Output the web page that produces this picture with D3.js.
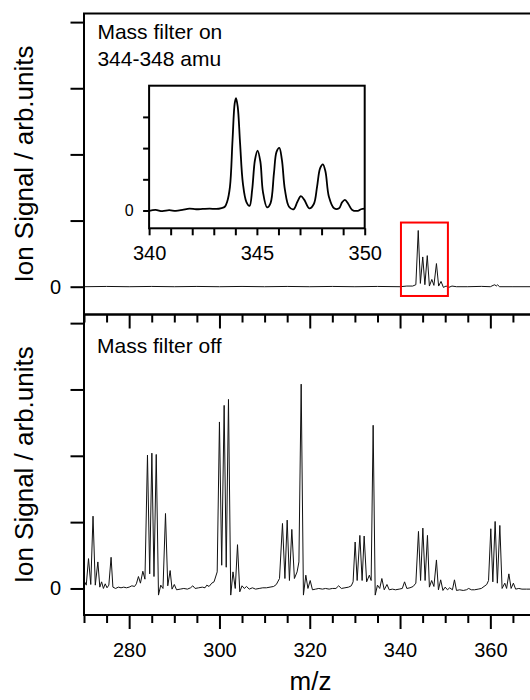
<!DOCTYPE html>
<html>
<head>
<meta charset="utf-8">
<script src="https://cdn.jsdelivr.net/npm/d3@7"></script>
<style>
  body { margin: 0; background: #fff; }
  text { font-family: "Liberation Sans", Arial, sans-serif; fill: #000; }
</style>
</head>
<body>
<div id="chart"></div>
<script>

// DATA

// x axis (m/z) tick labels
var mzTicks = [280, 300, 320, 340, 360];
var insetTicks = [340, 345, 350];

// mass filter off spectrum (bottom panel)
var offMz = [270.0, 270.5, 271.0, 271.5, 272.0, 272.5, 273.07, 273.5, 273.9, 274.3, 274.7, 275.1, 275.5, 276.0, 276.4,
  277.0, 277.6, 278.2, 278.8, 279.4, 280.0, 280.6, 281.2, 281.6, 282.06, 282.5, 283.03, 283.5,
  284.06, 284.55, 285.03, 285.5, 286.0, 286.5, 287.0, 287.5, 288.05, 288.55, 289.08, 289.5, 290.0, 290.5,
  291.3, 292.1, 292.9, 293.6, 294.1, 294.6, 295.4, 296.2, 296.8, 297.2, 297.7, 298.3, 298.8, 299.5,
  300.0, 300.5, 301.04, 301.5, 302.0, 302.5, 303.0, 303.5, 304.0, 304.5, 305.0, 305.5, 306.0, 306.6,
  307.3, 308.0, 308.8, 309.6, 310.4, 311.2, 312.0, 312.6, 313.3, 313.96, 314.5, 315.0, 315.5, 316.03,
  316.6, 317.2, 317.6, 318.1, 318.6, 319.13, 319.6, 320.1, 320.6, 321.3, 322.0, 322.8, 323.5, 324.3,
  325.0, 325.8, 326.4, 327.0, 327.8, 328.6, 329.2, 329.6, 330.05, 330.5, 331.1, 331.6, 332.05, 332.6,
  333.2, 333.6, 334.04, 334.5, 335.0, 335.5, 335.97, 336.5, 337.1, 337.6, 338.3, 339.0, 339.8, 340.5,
  341.0, 341.5, 342.2, 342.9, 343.5, 344.08, 344.55, 345.05, 345.55, 346.07, 346.5, 347.0, 347.5, 348.06,
  348.5, 349.0, 349.5, 350.0, 350.5, 351.0, 351.6, 352.05, 352.5, 353.2, 354.0, 354.7, 355.2, 355.8,
  356.5, 357.3, 358.0, 358.6, 359.2, 359.6, 360.1, 360.55, 361.06, 361.55, 362.1, 362.6, 363.2, 363.6,
  364.1, 364.6, 365.1, 365.6, 366.3, 367.0, 368.0, 369.0, 370.0];
var offSignal = [0.12, 0.05, 0.45, 0.06, 1.09, 0.05, 0.40, 0.02, 0.10, 0.00, 0.07, 0.01, 0.05, 0.47, 0.02,
  0.00, 0.02, 0.01, 0.02, 0.01, 0.02, 0.04, 0.03, 0.07, 0.18, 0.08, 0.26, 0.14,
  2.01, 0.22, 2.04, 0.18, 2.02, -0.10, 0.05, 0.00, 1.13, 0.04, 0.27, -0.01, 0.06, -0.02,
  -0.01, 0.00, -0.01, 0.01, 0.04, 0.00, 0.01, 0.02, 0.01, 0.05, 0.03, 0.08, 0.10, 0.25,
  2.51, 0.35, 2.76, 0.32, 2.85, -0.10, 0.25, 0.00, 0.66, -0.05, 0.04, 0.00, 0.03, -0.01,
  0.01, -0.01, 0.00, 0.01, 0.01, 0.02, 0.03, 0.06, 0.15, 0.98, 0.15, 1.03, 0.12, 0.89,
  0.15, 0.25, 0.40, 3.08, -0.10, 0.20, 0.00, 0.12, -0.02, -0.01, 0.00, -0.01, 0.00, -0.01,
  0.00, 0.00, 0.04, 0.00, 0.01, 0.02, 0.04, 0.10, 0.70, 0.12, 0.80, 0.12, 0.79, 0.10,
  0.20, 0.12, 2.46, -0.10, 0.05, 0.00, 0.15, -0.02, 0.06, -0.02, -0.01, -0.02, -0.01, 0.00,
  0.10, 0.00, 0.01, 0.03, 0.08, 0.86, 0.12, 0.91, 0.12, 0.80, 0.02, 0.12, 0.03, 0.43,
  -0.02, 0.13, -0.03, 0.02, -0.02, 0.01, -0.02, 0.13, -0.03, -0.02, -0.03, -0.02, 0.00, -0.02,
  -0.02, -0.01, 0.00, 0.03, 0.06, 0.12, 0.90, 0.10, 1.01, 0.08, 0.95, 0.00, 0.08, 0.00,
  0.22, 0.00, 0.08, -0.01, 0.00, -0.01, -0.01, -0.01, -0.01];

// mass filter on spectrum (top panel)
var onMz = [270, 275, 280, 285, 290, 295, 300, 305, 310, 315, 320, 325, 330, 335, 340,
  341.5, 342.8, 343.5, 344.03, 344.5, 345.03, 345.5, 346.03, 346.5, 347.04, 347.5, 348.06, 348.55,
  349.08, 349.6, 350.2, 350.8, 351.5, 352.5, 355, 358, 360, 360.6, 361.0, 361.3, 361.6, 362,
  365, 370];
var onSignal = [0.00, 0.004, 0.00, 0.004, 0.00, 0.004, 0.00, 0.004, 0.00, 0.004, 0.00, 0.004, 0.00, 0.004, 0.00,
  0.01, 0.01, 0.03, 0.85, 0.05, 0.45, 0.03, 0.47, 0.01, 0.11, 0.02, 0.35, 0.01,
  0.08, -0.01, 0.01, -0.01, 0.01, 0.00, 0.00, 0.005, 0.00, 0.02, 0.03, 0.01, 0.03, 0.00,
  0.00, 0.00];

// zoomed inset, 340-350 amu with mass filter on
var insetMz = [340.00, 340.30, 340.61, 340.93, 341.24, 341.55, 341.87, 342.18, 342.49, 342.81, 343.12, 343.36,
  343.51, 343.62, 343.75, 343.87, 343.97, 344.03, 344.11, 344.22, 344.35, 344.51, 344.66, 344.78, 344.91,
  345.03, 345.16, 345.28, 345.47, 345.63, 345.79, 345.91, 346.04, 346.16, 346.30, 346.49, 346.70, 346.88,
  347.04, 347.20, 347.43, 347.64, 347.79, 347.93, 348.06, 348.18, 348.34, 348.58, 348.81, 348.95, 349.08,
  349.24, 349.42, 349.68, 349.83, 350.00];
var insetSignal = [-0.01, 0.02, -0.02, 0.01, -0.01, 0.02, 0.06, 0.04, 0.05, 0.06, 0.05, 0.08,
  0.12, 0.28, 0.76, 2.26, 3.43, 3.60, 3.33, 2.15, 0.87, 0.28, 0.15, 0.66, 1.62,
  1.92, 1.57, 0.60, 0.10, 0.23, 1.19, 1.88, 2.01, 1.62, 0.66, 0.12, 0.04, 0.28,
  0.46, 0.34, 0.07, 0.21, 0.76, 1.35, 1.48, 1.25, 0.44, 0.07, 0.07, 0.26, 0.34,
  0.21, 0.02, -0.01, 0.04, 0.06];

// region marked by the red box (m/z, signal)
var boxMz = [340.2, 350.6];
var boxSignal = [-0.14, 0.97];

// CHART

var svgWidth = 530, svgHeight = 700;
var margin = {left: 84, top: 13.5},
    width = 451.5,
    panelHeight = 301;

var topY0 = margin.top, topY1 = margin.top + panelHeight;      // 13.5 .. 314.5
var botY0 = topY1, botY1 = 615;

var svg = d3.select("#chart").append("svg")
    .attr("width", svgWidth)
    .attr("height", svgHeight);

// scales
var x = d3.scaleLinear().domain([270, 370]).range([margin.left, margin.left + width]);
var yOn = d3.scaleLinear().domain([-0.42, 4.13]).range([topY1, topY0]);
var yOff = d3.scaleLinear().domain([-0.40, 4.13]).range([botY1, botY0]);

var minorMz = d3.range(270, 371, 5).filter(function(d) { return mzTicks.indexOf(d) < 0; });

function styleAxis(g) {
  g.select(".domain").remove();
  g.selectAll("line").attr("stroke", "#000").attr("stroke-width", 2);
  g.selectAll("text").style("font-size", "20px").attr("fill", "#000");
}

function spectrum(mz, sig, xs, ys) {
  return d3.line()
    .x(function(i) { return xs(mz[i]); })
    .y(function(i) { return ys(sig[i]); })(d3.range(mz.length));
}

// bottom panel spectrum
svg.append("path")
    .attr("d", spectrum(offMz, offSignal, x, yOff))
    .attr("fill", "none")
    .attr("stroke", "#111")
    .attr("stroke-width", 1);

// top panel spectrum
svg.append("path")
    .attr("d", spectrum(onMz, onSignal, x, yOn))
    .attr("fill", "none")
    .attr("stroke", "#111")
    .attr("stroke-width", 1);

// frames
svg.append("rect")
    .attr("x", x(270)).attr("y", topY0)
    .attr("width", width).attr("height", panelHeight)
    .attr("fill", "none").attr("stroke", "#000").attr("stroke-width", 2);
svg.append("rect")
    .attr("x", x(270)).attr("y", botY0)
    .attr("width", width).attr("height", botY1 - botY0)
    .attr("fill", "none").attr("stroke", "#000").attr("stroke-width", 2);

// x ticks under top panel (no labels)
svg.append("g")
    .attr("transform", "translate(0," + topY1 + ")")
    .call(d3.axisBottom(x).tickValues(mzTicks).tickSize(14).tickSizeOuter(0).tickFormat(""))
    .call(styleAxis);
svg.append("g")
    .attr("transform", "translate(0," + topY1 + ")")
    .call(d3.axisBottom(x).tickValues(minorMz).tickSize(8).tickSizeOuter(0).tickFormat(""))
    .call(styleAxis);

// x axis of bottom panel
svg.append("g")
    .attr("transform", "translate(0," + botY1 + ")")
    .call(d3.axisBottom(x).tickValues(mzTicks).tickSize(14).tickPadding(13.5).tickSizeOuter(0))
    .call(styleAxis);
svg.append("g")
    .attr("transform", "translate(0," + botY1 + ")")
    .call(d3.axisBottom(x).tickValues(minorMz).tickSize(8).tickSizeOuter(0).tickFormat(""))
    .call(styleAxis);

// y axes
var zeroOnly = function(d) { return d === 0 ? "0" : ""; };
svg.append("g")
    .attr("transform", "translate(" + x(270) + ",0)")
    .call(d3.axisLeft(yOn).tickValues([0, 1, 2, 3, 4]).tickSize(13.5).tickPadding(9.5).tickSizeOuter(0).tickFormat(zeroOnly))
    .call(styleAxis);
svg.append("g")
    .attr("transform", "translate(" + x(270) + ",0)")
    .call(d3.axisLeft(yOff).tickValues([0, 1, 2, 3, 4]).tickSize(13.5).tickPadding(9.5).tickSizeOuter(0).tickFormat(zeroOnly))
    .call(styleAxis);

// red box
svg.append("rect")
    .attr("x", x(boxMz[0]))
    .attr("y", yOn(boxSignal[1]))
    .attr("width", x(boxMz[1]) - x(boxMz[0]))
    .attr("height", yOn(boxSignal[0]) - yOn(boxSignal[1]))
    .attr("fill", "none")
    .attr("stroke", "#ff0000")
    .attr("stroke-width", 2);

// INSET
var xi = d3.scaleLinear().domain([340, 350]).range([149.1, 364.7]);
var yi = d3.scaleLinear().domain([-0.57, 4.0]).range([228.3, 85.7]);

svg.append("rect")
    .attr("x", xi(340)).attr("y", yi(4.0))
    .attr("width", xi(350) - xi(340)).attr("height", yi(-0.57) - yi(4.0))
    .attr("fill", "#fff");

svg.append("path")
    .attr("d", d3.line()
      .curve(d3.curveCatmullRom.alpha(0.5))
      .x(function(i) { return xi(insetMz[i]); })
      .y(function(i) { return yi(insetSignal[i]); })(d3.range(insetMz.length)))
    .attr("fill", "none")
    .attr("stroke", "#000")
    .attr("stroke-width", 1.8);

svg.append("rect")
    .attr("x", xi(340)).attr("y", yi(4.0))
    .attr("width", xi(350) - xi(340)).attr("height", yi(-0.57) - yi(4.0))
    .attr("fill", "none").attr("stroke", "#000").attr("stroke-width", 2);

svg.append("g")
    .attr("transform", "translate(0," + yi(-0.57) + ")")
    .call(d3.axisBottom(xi).tickValues(d3.range(340, 351, 1)).tickSize(7).tickPadding(11)
      .tickSizeOuter(0).tickFormat(function(d) { return insetTicks.indexOf(d) >= 0 ? d : ""; }))
    .call(styleAxis);

svg.append("g")
    .attr("transform", "translate(" + xi(340) + ",0)")
    .call(d3.axisLeft(yi).tickValues([0, 1, 2, 3]).tickSize(6).tickPadding(9.5).tickSizeOuter(0).tickFormat(zeroOnly))
    .call(styleAxis)
    .selectAll("text").style("font-size", "16px");

// LABELS
svg.append("text")
    .attr("transform", "translate(33," + (topY0 + topY1) / 2 + ") rotate(-90)")
    .attr("text-anchor", "middle")
    .style("font-size", "26px")
    .text("Ion Signal / arb.units");
svg.append("text")
    .attr("transform", "translate(33," + (botY0 + botY1) / 2 + ") rotate(-90)")
    .attr("text-anchor", "middle")
    .style("font-size", "26px")
    .text("Ion Signal / arb.units");

svg.append("text")
    .attr("x", 310.5).attr("y", 690)
    .attr("text-anchor", "middle")
    .style("font-size", "26px")
    .text("m/z");

svg.append("text").attr("x", 97.4).attr("y", 39.3).style("font-size", "21px").text("Mass filter on");
svg.append("text").attr("x", 97.4).attr("y", 65.7).style("font-size", "21px").text("344-348 amu");
svg.append("text").attr("x", 97).attr("y", 352.7).style("font-size", "21px").text("Mass filter off");

</script>
</body>
</html>
